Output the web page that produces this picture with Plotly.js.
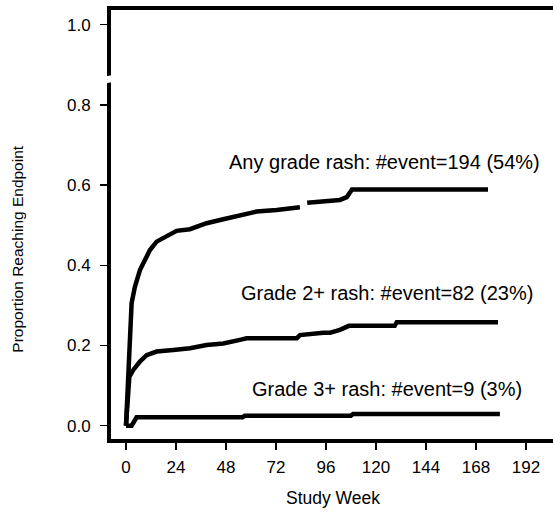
<!DOCTYPE html>
<html>
<head>
<meta charset="utf-8">
<script src="https://cdn.plot.ly/plotly-3.0.1.min.js"></script>
<style>html,body{margin:0;padding:0;background:#fff;}#chart{width:553px;height:516px;}</style>
</head>
<body>
<div id="chart"></div>
<script>
// Cumulative incidence curves (week, proportion)
var anyWeek = [0, 0.8, 1.6, 2.7, 4.3, 5.5, 6.7, 9.1, 11.5, 14.7, 19.5, 24.3, 30.7, 38.7, 46.7, 54.7, 62.7, 72.3, 80.3, 83.5, 84, 87, 102.7, 106, 108.5, 173.8];
var anyVal  = [0, 0.10, 0.205, 0.306, 0.347, 0.370, 0.388, 0.413, 0.438, 0.459, 0.471, 0.486, 0.490, 0.505, 0.515, 0.525, 0.534, 0.538, 0.542, 0.545, null, 0.556, 0.563, 0.570, 0.589, 0.589];

var g2Week = [0, 1.6, 3.5, 6.7, 9.9, 14.7, 22.7, 30.7, 38.7, 46.7, 54.7, 57.9, 82, 83.5, 94.7, 98, 102.7, 107, 129, 130, 178.6];
var g2Val  = [0, 0.122, 0.139, 0.160, 0.176, 0.185, 0.189, 0.193, 0.201, 0.205, 0.214, 0.218, 0.218, 0.226, 0.232, 0.232, 0.239, 0.249, 0.249, 0.258, 0.258];

var g3Week = [0, 2.7, 5.1, 56, 57, 108, 109, 179.5];
var g3Val  = [0, 0, 0.021, 0.021, 0.025, 0.025, 0.029, 0.029];

var labels = ["Any grade rash: #event=194 (54%)", "Grade 2+ rash: #event=82 (23%)", "Grade 3+ rash: #event=9 (3%)"];
var labelWeek = [48.5, 54.2, 59.5];
var labelVal = [0.657, 0.330, 0.091];

var xTicks = [0, 24, 48, 72, 96, 120, 144, 168, 192];
var yTicks = [0.0, 0.2, 0.4, 0.6, 0.8, 1.0];
var yTickText = ["0.0", "0.2", "0.4", "0.6", "0.8", "1.0"];

var FONT = "Liberation Sans, Arial, sans-serif";
function curve(x, y) {
  return {x: x, y: y, type: "scatter", mode: "lines", connectgaps: false,
          line: {color: "#000", width: 4.5, shape: "linear"}, hoverinfo: "skip", showlegend: false};
}
var data = [curve(anyWeek, anyVal), curve(g2Week, g2Val), curve(g3Week, g3Val)];

var annotations = labels.map(function (t, i) {
  return {text: t, x: labelWeek[i], y: labelVal[i], xref: "x", yref: "y",
          xanchor: "left", yanchor: "middle", showarrow: false,
          font: {family: FONT, size: 20, color: "#000"}};
});
annotations.push({text: "Study Week", xref: "paper", yref: "paper", x: 0.503, y: -0.138,
  xanchor: "center", yanchor: "middle", showarrow: false, font: {family: FONT, size: 17.5, color: "#000"}});
annotations.push({text: "Proportion Reaching Endpoint", xref: "paper", yref: "paper", x: -0.211, y: 0.443,
  xanchor: "center", yanchor: "middle", textangle: -90, showarrow: false, font: {family: FONT, size: 15.5, color: "#000"}});

var layout = {
  width: 553, height: 516,
  margin: {l: 111, r: 0, t: 10, b: 77, pad: 0},
  paper_bgcolor: "#fff", plot_bgcolor: "#fff",
  font: {family: FONT, size: 17, color: "#000"},
  xaxis: {range: [-7.2, 205], tickvals: xTicks, ticktext: xTicks.map(String),
          showgrid: false, zeroline: false, showline: true, linecolor: "#000", linewidth: 4,
          mirror: true, ticks: "outside", ticklen: 7, tickwidth: 1.5, tickcolor: "#000",
          ticklabelstandoff: 3,
          tickfont: {family: FONT, size: 17, color: "#000"}, fixedrange: true},
  yaxis: {range: [-0.0332, 1.0367], tickvals: yTicks, ticktext: yTickText,
          showgrid: false, zeroline: false, showline: true, linecolor: "#000", linewidth: 4,
          ticks: "outside", ticklen: 7, tickwidth: 1.5, tickcolor: "#000",
          ticklabelstandoff: 6,
          tickfont: {family: FONT, size: 17, color: "#000"}, fixedrange: true},
  shapes: [{type: "path", xref: "paper", yref: "y",
            path: "M -0.02,0.853 L 0.01,0.858 L 0.01,0.875 L -0.02,0.870 Z",
            fillcolor: "#fff", line: {width: 0}, layer: "above"}],
  annotations: annotations
};
Plotly.newPlot("chart", data, layout, {displayModeBar: false, staticPlot: true});
</script>
</body>
</html>
